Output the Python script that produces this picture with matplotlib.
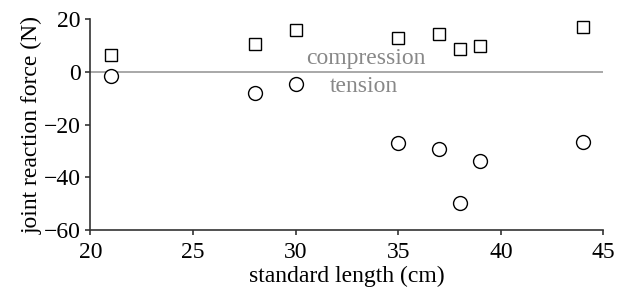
import matplotlib
matplotlib.use("Agg")
import matplotlib.pyplot as plt

plt.rcParams['font.family'] = ['Liberation Serif', 'DejaVu Serif']

# standard length (cm)
length = [21, 28, 30, 35, 37, 38, 39, 44]
# joint reaction force (N)
compression = [6.5, 10.5, 15.8, 12.7, 14.5, 8.5, 9.9, 17.1]
tension = [-1.8, -8.0, -4.8, -27.0, -29.3, -49.8, -34.0, -26.8]

x_ticks = [20, 25, 30, 35, 40, 45]
y_ticks = [-60, -40, -20, 0, 20]

fig = plt.figure(figsize=(6.26, 2.95), dpi=100)
ax = fig.add_axes([0.1445, 0.2203, 0.8195, 0.7153])

ax.axhline(0, color='#999999', lw=1.2, zorder=1)
ax.plot(length, compression, 's', ms=8.5, mfc='white', mec='black', mew=1.0, zorder=3)
ax.plot(length, tension, 'o', ms=10, mfc='white', mec='black', mew=1.0, zorder=3)

ax.text(33.4, 3.1, 'compression', color='#888888', fontsize=17, ha='center', va='baseline')
ax.text(33.3, -7.7, 'tension', color='#888888', fontsize=17, ha='center', va='baseline')

ax.set_xlim(20, 45)
ax.set_ylim(-60, 20)
ax.set_xticks(x_ticks)
ax.set_yticks(y_ticks)
ax.set_yticklabels(['\u2212' + str(-v) if v < 0 else str(v) for v in y_ticks])
ax.tick_params(labelsize=17, direction='out', length=3.5, width=1.2,
               color='#333333')
ax.tick_params(axis='x', pad=5)
ax.tick_params(axis='y', pad=3.5)
ax.set_xlabel('standard length (cm)', fontsize=17, labelpad=2)
ax.set_ylabel('joint reaction force (N)', fontsize=17, labelpad=1)

for side in ['top', 'right']:
    ax.spines[side].set_visible(False)
for side in ['left', 'bottom']:
    ax.spines[side].set_linewidth(1.2)
    ax.spines[side].set_color('#333333')

fig.savefig('out.png', dpi=100)
